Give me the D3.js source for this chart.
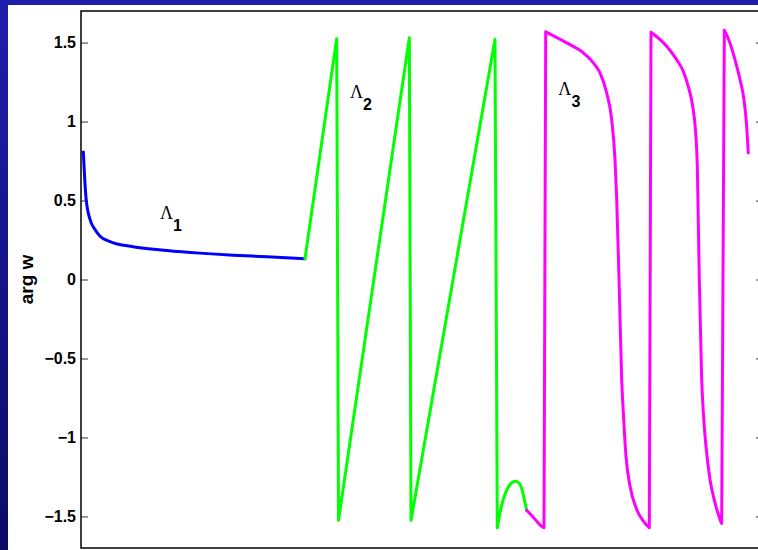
<!DOCTYPE html>
<html>
<head>
<meta charset="utf-8">
<script src="https://cdn.jsdelivr.net/npm/d3@7"></script>
<style>
  html, body { margin: 0; padding: 0; background: #fff; }
  svg { display: block; }
</style>
</head>
<body>
<div id="chart"></div>
<script>
// Lambda_1 branch (blue)
const blueX = [0.034, 0.051, 0.073, 0.132, 0.205, 0.279, 0.425, 0.762, 1.261, 1.745, 2.229, 2.727, 3.284]
const blueY = [0.808, 0.665, 0.519, 0.380, 0.316, 0.274, 0.240, 0.208, 0.184, 0.167, 0.154, 0.144, 0.131]

// Lambda_2 branch (green)
const greenX = [3.284, 3.749, 3.776, 4.814, 4.839, 6.070, 6.104, 6.144, 6.192, 6.251, 6.315, 6.374, 6.427, 6.466, 6.500, 6.535]
const greenY = [0.131, 1.525, -1.525, 1.530, -1.525, 1.519, -1.572, -1.477, -1.392, -1.325, -1.287, -1.277, -1.291, -1.329, -1.392, -1.462]

// Lambda_3 branch (magenta)
const magentaX = [6.535, 6.608, 6.682, 6.740, 6.789, 6.814, 7.122, 7.365, 7.512, 7.610, 7.708, 7.781, 7.830, 7.855, 7.889,
  7.928, 7.952, 7.991, 8.050, 8.148, 8.245, 8.333, 8.358, 8.588, 8.734, 8.831, 8.904, 8.969, 9.013, 9.037, 9.066,
  9.101, 9.125, 9.164, 9.223, 9.296, 9.370, 9.394, 9.433, 9.516, 9.589, 9.663, 9.721, 9.761, 9.784]
const magentaY = [-1.462, -1.494, -1.530, -1.557, -1.572, 1.568, 1.498, 1.435, 1.372, 1.308, 1.182, 1.013, 0.759, 0.506, 0.000,
  -0.633, -0.842, -1.118, -1.308, -1.456, -1.530, -1.572, 1.565, 1.477, 1.392, 1.318, 1.223, 1.097, 0.928, 0.717, 0.000,
  -0.633, -0.842, -1.055, -1.266, -1.413, -1.519, -1.544, 1.578, 1.498, 1.392, 1.266, 1.139, 0.970, 0.802]

const yTicks = [-1.5, -1, -0.5, 0, 0.5, 1, 1.5]
const labelNames = ['1', '2', '3']
const labelX = [1.158, 3.944, 6.999]
const labelY = [0.386, 1.146, 1.165]

const width = 758, height = 550
const margin = { left: 81, top: 11, right: -5, bottom: 2 }
const plotW = width - margin.left - margin.right
const plotH = height - margin.top - margin.bottom

const svg = d3.select('#chart')
  .append('svg')
    .attr('width', width)
    .attr('height', height)

// slide background
const grad = svg.append('defs').append('linearGradient')
    .attr('id', 'bg')
    .attr('x1', 0).attr('y1', 0).attr('x2', 0).attr('y2', 1)
grad.append('stop').attr('offset', '0%').attr('stop-color', '#1e1eac')
grad.append('stop').attr('offset', '100%').attr('stop-color', '#0b0b64')

svg.append('rect')
    .attr('width', width).attr('height', height)
    .attr('fill', 'url(#bg)')
svg.append('rect')
    .attr('x', 8).attr('y', 5)
    .attr('width', width - 8).attr('height', height - 5)
    .attr('fill', '#fff')

const x = d3.scaleLinear().domain([0, 10]).range([0, plotW])
const y = d3.scaleLinear().domain([-1.7, 1.7]).range([plotH, 0])

const g = svg.append('g')
    .attr('transform', `translate(${margin.left},${margin.top})`)

// axes
const fmt = d3.format('')
const yAxisL = g.append('g')
    .call(d3.axisLeft(y).tickValues(yTicks).tickFormat(fmt).tickSizeInner(-7).tickSizeOuter(0).tickPadding(5))
const yAxisR = g.append('g')
    .attr('transform', `translate(${plotW},0)`)
    .call(d3.axisRight(y).tickValues(yTicks).tickFormat('').tickSizeInner(-7).tickSizeOuter(0))

g.selectAll('.domain').remove()
g.selectAll('.tick line').attr('stroke', '#555').attr('stroke-width', 1.2)
yAxisL.selectAll('text')
    .style('font-family', '"Liberation Sans", Arial, sans-serif')
    .style('font-weight', 'bold')
    .style('font-size', '16px')
    .attr('fill', '#000')

// the curves: smooth runs, straight jumps (where the phase wraps)
const smooth = d3.line()
    .x(d => x(d[0]))
    .y(d => y(d[1]))
    .curve(d3.curveMonotoneX)
const straight = d3.line()
    .x(d => x(d[0]))
    .y(d => y(d[1]))

function pieces(xs, ys) {
  const pts = xs.map((v, i) => [v, ys[i]])
  const out = []
  let run = [pts[0]]
  for (let i = 1; i < pts.length; i++) {
    if (Math.abs(pts[i][1] - pts[i - 1][1]) > 2) {
      out.push(smooth(run))
      out.push(straight([pts[i - 1], pts[i]]))
      run = [pts[i]]
    } else {
      run.push(pts[i])
    }
  }
  out.push(smooth(run))
  return out.join('')
}

const series = [
  { xs: blueX, ys: blueY, color: '#0000ff' },
  { xs: greenX, ys: greenY, color: '#00ff00' },
  { xs: magentaX, ys: magentaY, color: '#ff00ff' }
]

g.selectAll('path.curve')
  .data(series)
  .join('path')
    .attr('class', 'curve')
    .attr('d', s => pieces(s.xs, s.ys))
    .attr('fill', 'none')
    .attr('stroke', s => s.color)
    .attr('stroke-width', 3)
    .attr('stroke-linejoin', 'round')
    .attr('stroke-linecap', 'round')

// box
g.append('rect')
    .attr('width', plotW).attr('height', plotH)
    .attr('fill', 'none')
    .attr('stroke', '#000')
    .attr('stroke-width', 1.5)

// branch labels
const lab = g.selectAll('text.lam')
  .data(labelNames)
  .join('text')
    .attr('class', 'lam')
    .attr('x', (d, i) => x(labelX[i]))
    .attr('y', (d, i) => y(labelY[i]))
    .attr('fill', '#000')
lab.append('tspan')
    .text('Λ')
    .style('font-family', '"Liberation Serif", "Times New Roman", serif')
    .style('font-size', '18px')
lab.append('tspan')
    .text(d => d)
    .attr('dy', 12)
    .style('font-family', '"Liberation Sans", Arial, sans-serif')
    .style('font-weight', 'bold')
    .style('font-size', '16px')

// y label
svg.append('text')
    .attr('transform', `translate(33,${margin.top + y(0)}) rotate(-90)`)
    .attr('text-anchor', 'middle')
    .style('font-family', '"Liberation Sans", Arial, sans-serif')
    .style('font-weight', 'bold')
    .style('font-size', '19px')
    .text('arg w')
</script>
</body>
</html>
